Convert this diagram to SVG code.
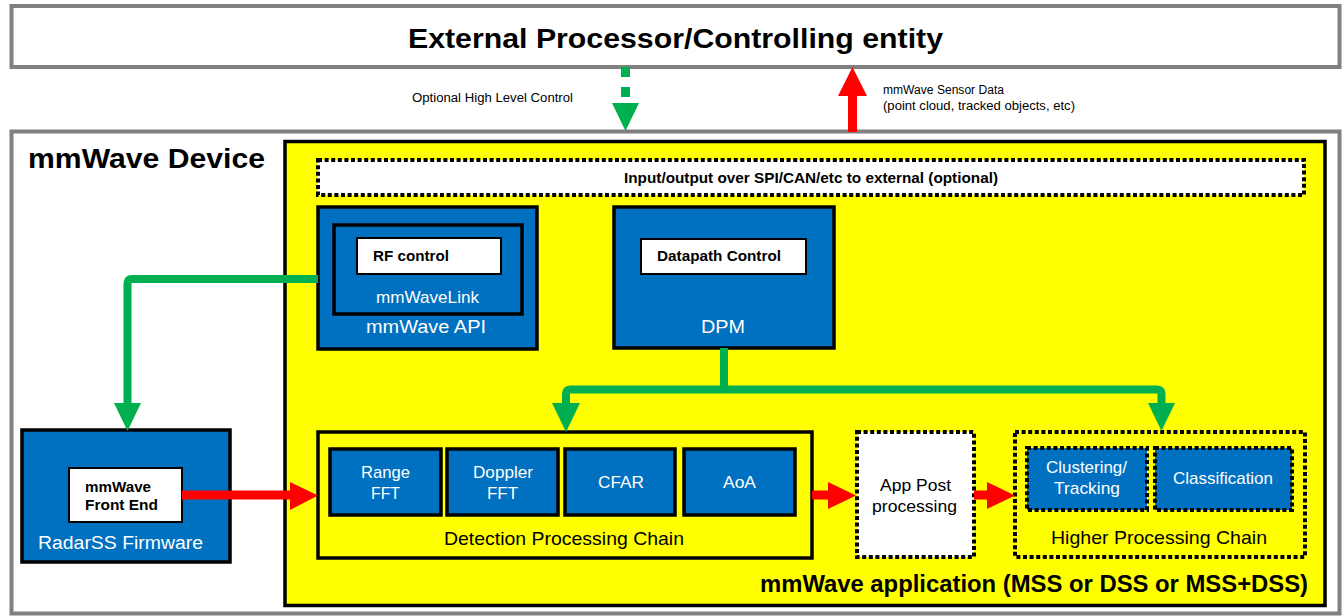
<svg xmlns="http://www.w3.org/2000/svg" width="1343" height="616" viewBox="0 0 1343 616">
<style>
text{font-family:"Liberation Sans",Arial,sans-serif}
.b{font-weight:bold}
.w{fill:#fff}
.k{fill:#000}
.blue{fill:#0070C0;stroke:#000;stroke-width:3.5}
.wb{fill:#fff;stroke:#000;stroke-width:2}
.dot{stroke:#000;stroke-width:4;stroke-dasharray:4 2.6}
.g{fill:none;stroke:#00B050;stroke-width:8;stroke-linejoin:round}
.r{fill:none;stroke:#FF0000;stroke-width:9}
.gh{fill:#00B050}
.rh{fill:#FF0000}
</style>
<rect width="1343" height="616" fill="#fff"/>
<g id="external">
<rect x="11.5" y="6" width="1328" height="61" fill="#fff" stroke="#808080" stroke-width="4"/>
<text x="408" y="48" class="b k" font-size="27" textLength="535" lengthAdjust="spacingAndGlyphs">External Processor/Controlling entity</text>
</g>
<g id="device">
<rect x="11.5" y="131.5" width="1328" height="482" fill="#fff" stroke="#808080" stroke-width="4"/>
<text x="28" y="168" class="b k" font-size="27" textLength="237" lengthAdjust="spacingAndGlyphs">mmWave Device</text>
</g>
<g id="application">
<rect x="285" y="141.5" width="1040" height="464" fill="#FFFF00" stroke="#000" stroke-width="3.5"/>
<text x="760" y="592" class="b k" font-size="24" textLength="548" lengthAdjust="spacingAndGlyphs">mmWave application (MSS or DSS or MSS+DSS)</text>
</g>
<g id="io">
<rect x="318" y="160" width="986" height="35" fill="#fff" class="dot"/>
<text x="624" y="183" class="b k" font-size="15" textLength="374" lengthAdjust="spacingAndGlyphs">Input/output over SPI/CAN/etc to external (optional)</text>
</g>
<g id="mmwave-api">
<rect x="318" y="207" width="219" height="142" class="blue" stroke-width="3"/>
<rect x="334" y="225" width="188" height="89" class="blue" stroke-width="4"/>
<rect x="357" y="238" width="144" height="36" class="wb"/>
<text x="373" y="261" class="b k" font-size="14" textLength="76" lengthAdjust="spacingAndGlyphs">RF control</text>
<text x="376" y="303" class="w" font-size="16" textLength="103" lengthAdjust="spacingAndGlyphs">mmWaveLink</text>
<text x="366" y="333" class="w" font-size="18" textLength="120" lengthAdjust="spacingAndGlyphs">mmWave API</text>
</g>
<g id="dpm">
<rect x="614" y="207" width="220" height="141" class="blue" stroke-width="3"/>
<rect x="641" y="239" width="165" height="35" class="wb"/>
<text x="657" y="261" class="b k" font-size="14" textLength="124" lengthAdjust="spacingAndGlyphs">Datapath Control</text>
<text x="701" y="333" class="w" font-size="18" textLength="44" lengthAdjust="spacingAndGlyphs">DPM</text>
</g>
<g id="radarss">
<rect x="22" y="430" width="208" height="132" class="blue"/>
<rect x="69" y="468" width="113" height="54" class="wb"/>
<text x="85" y="492" class="b k" font-size="14" textLength="66" lengthAdjust="spacingAndGlyphs">mmWave</text>
<text x="85" y="510" class="b k" font-size="14" textLength="73" lengthAdjust="spacingAndGlyphs">Front End</text>
<text x="38" y="549" class="w" font-size="18" textLength="165" lengthAdjust="spacingAndGlyphs">RadarSS Firmware</text>
</g>
<g id="detection-chain">
<rect x="318" y="432" width="494" height="126" fill="#FFFF00" stroke="#000" stroke-width="3.5"/>
<text x="444" y="545" class="k" font-size="19" textLength="240" lengthAdjust="spacingAndGlyphs">Detection Processing Chain</text>
</g>
<g id="range-fft">
<rect x="330" y="449" width="111" height="66" class="blue"/>
<text x="361" y="478" class="w" font-size="17" textLength="49" lengthAdjust="spacingAndGlyphs">Range</text>
<text x="371" y="499" class="w" font-size="17" textLength="29" lengthAdjust="spacingAndGlyphs">FFT</text>
</g>
<g id="doppler-fft">
<rect x="447" y="449" width="111" height="66" class="blue"/>
<text x="473" y="478" class="w" font-size="17" textLength="60" lengthAdjust="spacingAndGlyphs">Doppler</text>
<text x="487" y="499" class="w" font-size="17" textLength="31" lengthAdjust="spacingAndGlyphs">FFT</text>
</g>
<g id="cfar">
<rect x="565" y="449" width="110" height="66" class="blue"/>
<text x="598" y="488" class="w" font-size="17" textLength="46" lengthAdjust="spacingAndGlyphs">CFAR</text>
</g>
<g id="aoa">
<rect x="684" y="449" width="111" height="66" class="blue"/>
<text x="723" y="488" class="w" font-size="17" textLength="33" lengthAdjust="spacingAndGlyphs">AoA</text>
</g>
<g id="app-post">
<rect x="857" y="432" width="117" height="125" fill="#fff" class="dot"/>
<text x="880" y="491" class="k" font-size="17" textLength="71" lengthAdjust="spacingAndGlyphs">App Post</text>
<text x="872" y="512" class="k" font-size="17" textLength="85" lengthAdjust="spacingAndGlyphs">processing</text>
</g>
<g id="higher-chain">
<rect x="1015" y="432" width="290" height="125" fill="#FFFF00" class="dot"/>
<text x="1051" y="544" class="k" font-size="19" textLength="216" lengthAdjust="spacingAndGlyphs">Higher Processing Chain</text>
</g>
<g id="clustering">
<rect x="1027" y="448" width="120" height="62" fill="#0070C0" class="dot"/>
<text x="1046" y="473" class="w" font-size="17" textLength="81" lengthAdjust="spacingAndGlyphs">Clustering/</text>
<text x="1054" y="494" class="w" font-size="17" textLength="66" lengthAdjust="spacingAndGlyphs">Tracking</text>
</g>
<g id="classification">
<rect x="1155" y="448" width="137" height="62" fill="#0070C0" class="dot"/>
<text x="1173" y="484" class="w" font-size="17" textLength="100" lengthAdjust="spacingAndGlyphs">Classification</text>
</g>
<g id="connectors">
<line x1="625.5" y1="67" x2="625.5" y2="97" stroke="#00B050" stroke-width="9" stroke-dasharray="10 10"/>
<polygon class="gh" points="612,103 639,103 625.5,131"/>
<text x="412" y="102" class="k" font-size="12" textLength="161" lengthAdjust="spacingAndGlyphs">Optional High Level Control</text>
<line x1="852.5" y1="132" x2="852.5" y2="94" class="r"/>
<polygon class="rh" points="838,96 867,96 852.5,67"/>
<text x="883" y="94" class="k" font-size="12" textLength="121" lengthAdjust="spacingAndGlyphs">mmWave Sensor Data</text>
<text x="883" y="110" class="k" font-size="12" textLength="192" lengthAdjust="spacingAndGlyphs">(point cloud, tracked objects, etc)</text>
<path class="g" d="M318 279 H132 Q127.5 279 127.5 284 V405"/>
<polygon class="gh" points="114,403 141,403 127.5,431"/>
<path class="g" d="M724 348 V389.5"/>
<path class="g" d="M566 405 V394 Q566 389.5 571 389.5 H1156.5 Q1161.5 389.5 1161.5 394 V405"/>
<polygon class="gh" points="552,403 580,403 566,432"/>
<polygon class="gh" points="1148,403 1175,403 1161.5,431"/>
<line x1="182" y1="495" x2="292" y2="495" class="r" stroke-width="8.5"/>
<polygon class="rh" points="290,482 290,510 318,495.5"/>
<line x1="812" y1="495" x2="830" y2="495" class="r" stroke-width="8.5"/>
<polygon class="rh" points="828,482 828,509 856,495.5"/>
<line x1="974" y1="495" x2="989" y2="495" class="r" stroke-width="8.5"/>
<polygon class="rh" points="987,482 987,509 1015,495.5"/>
</g>
</svg>
